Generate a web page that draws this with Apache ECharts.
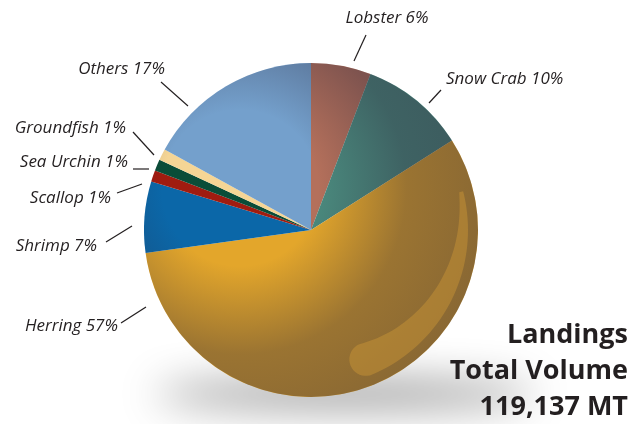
<!DOCTYPE html>
<html>
<head>
<meta charset="utf-8">
<script src="https://cdn.jsdelivr.net/npm/echarts@6/dist/echarts.min.js"></script>
<style>html,body{margin:0;padding:0;background:#fff}#c{width:641px;height:424px}</style>
</head>
<body>
<div id="c"></div>
<script>
// ---- data ----
const categories = ['Lobster', 'Snow Crab', 'Herring', 'Shrimp', 'Scallop', 'Sea Urchin', 'Groundfish', 'Others'];
const shares = [5.8, 10.2, 56.8, 6.9, 1.1, 1.1, 1.1, 17.0];          // % of landings volume
const shareLabels = ['6%', '10%', '57%', '7%', '1%', '1%', '1%', '17%'];
const titleLines = ['Landings', 'Total Volume', '119,137 MT'];

// ---- style ----
const colors = ['#b4705b', '#4a897d', '#e3a62b', '#0b67a8', '#a01c10', '#0a4d38', '#f5d595', '#74a0cc'];
const CX = 311, CY = 230, R = 167;
// label placement: [x, y, align, lineStartX, lineStartY, lineEndX, lineEndY]
const labelPlace = [
  [387, 18, 'center', 366, 35, 354, 61],
  [446, 79, 'left', 441, 90, 429, 103],
  [118, 326, 'right', 121, 323, 146, 307],
  [97, 246, 'right', 106, 242, 132, 226],
  [111, 198, 'right', 117, 193, 142, 184],
  [128, 162, 'right', 133, 169, 149, 169],
  [126, 128, 'right', 133, 132, 154, 155],
  [165, 69, 'right', 161, 82, 188, 106]
];

// crescent highlight polygon (decoration)
function crescent() {
  const a0 = -0.25, a1 = 1.17, rOut = 157, rIn0 = 153, rIn1 = 124, n = 40;
  const pts = [];
  for (let i = 0; i <= n; i++) {
    const a = a0 + (a1 - a0) * i / n;
    pts.push([CX + rOut * Math.cos(a), CY + rOut * Math.sin(a)]);
  }
  const rc = (rOut + rIn1) / 2, hw = (rOut - rIn1) / 2;
  const c = [CX + rc * Math.cos(a1), CY + rc * Math.sin(a1)];
  const u = [Math.cos(a1), Math.sin(a1)], v = [-Math.sin(a1), Math.cos(a1)];
  for (let i = 1; i < 20; i++) {
    const t = Math.PI * i / 20;
    pts.push([c[0] + hw * (Math.cos(t) * u[0] + Math.sin(t) * v[0]), c[1] + hw * (Math.cos(t) * u[1] + Math.sin(t) * v[1])]);
  }
  for (let i = n; i >= 0; i--) {
    const a = a0 + (a1 - a0) * i / n;
    const f = i / n;
    const r = rIn0 + (rIn1 - rIn0) * Math.pow(f, 0.9);
    pts.push([CX + r * Math.cos(a), CY + r * Math.sin(a)]);
  }
  return pts;
}

const chart = echarts.init(document.getElementById('c'), null, { renderer: 'canvas' });
const labelFont = { fontFamily: 'Open Sans', fontStyle: 'italic', fontSize: 17, color: '#231f20' };
const OFF = 2000;

chart.setOption({
  backgroundColor: '#ffffff',
  animation: false,
  graphic: [
    {
      type: 'ellipse', z: 0, silent: true,
      shape: { cx: 345, cy: 394 - OFF, rx: 190, ry: 14 },
      style: { fill: '#000', shadowBlur: 40, shadowOffsetY: OFF, shadowColor: 'rgba(0,0,0,0.42)' }
    },
    {
      type: 'polygon', z: 10, silent: true,
      shape: { points: crescent() },
      style: { fill: 'rgba(210,156,56,0.42)' }
    },
    {
      type: 'text', z: 20, x: 628, y: 317,
      style: {
        text: titleLines.join('\n'),
        align: 'right', verticalAlign: 'top', textAlign: 'right', textVerticalAlign: 'top',
        fontFamily: 'Open Sans', fontWeight: 'bold', fontSize: 27, lineHeight: 36, fill: '#231f20'
      }
    }
  ],
  series: [
    {
      type: 'pie', z: 2,
      center: [CX, CY], radius: R,
      startAngle: 90, clockwise: true,
      avoidLabelOverlap: false,
      itemStyle: { borderWidth: 0 },
      data: categories.map((c, i) => ({ name: c, value: shares[i], itemStyle: { color: colors[i] } })),
      label: {
        show: true, position: 'outside',
        formatter: p => categories[p.dataIndex] + ' ' + shareLabels[p.dataIndex],
        ...labelFont
      },
      labelLine: { show: true, length: 10, length2: 0, lineStyle: { color: '#231f20', width: 1.2 } },
      labelLayout: function (params) {
        const lp = labelPlace[params.dataIndex];
        return {
          x: lp[0], y: lp[1], align: lp[2], verticalAlign: 'middle',
          labelLinePoints: [[lp[3], lp[4]], [lp[5], lp[6]]]
        };
      },
      emphasis: { disabled: true }
    },
    {
      type: 'pie', z: 3, silent: true,
      center: [CX, CY], radius: R,
      label: { show: false }, labelLine: { show: false },
      itemStyle: {
        borderWidth: 0,
        color: {
          type: 'radial', x: 240, y: 188, r: 260, global: true,
          colorStops: [
            { offset: 0, color: 'rgba(45,40,60,0)' },
            { offset: 0.3, color: 'rgba(45,40,60,0)' },
            { offset: 0.64, color: 'rgba(45,40,60,0.4)' },
            { offset: 1, color: 'rgba(45,40,60,0.5)' }
          ]
        }
      },
      data: [{ value: 1, name: 'shade' }],
      emphasis: { disabled: true }
    }
  ]
});
</script>
</body>
</html>
